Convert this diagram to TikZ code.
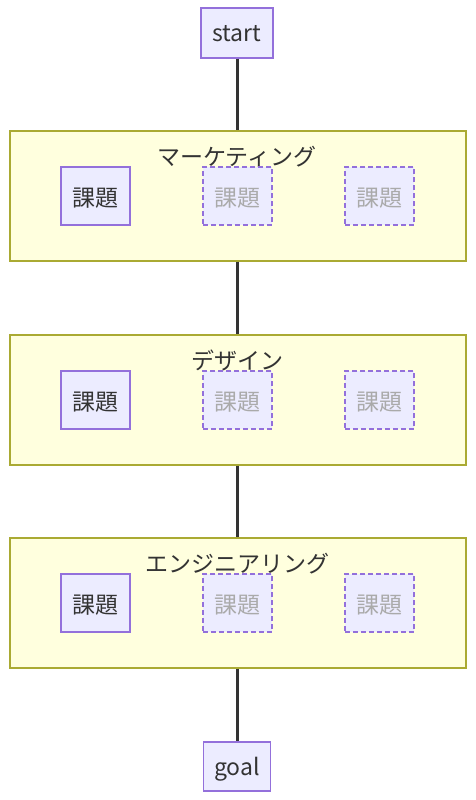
\documentclass[tikz,border=0pt]{standalone}
\usepackage{fontspec}
\setmainfont{Noto Sans CJK JP}
\begin{document}
\begin{tikzpicture}[x=1bp,y=-1bp,
  every node/.style={font=\fontsize{23bp}{26bp}\selectfont},
  task/.style={draw=nodestroke,fill=nodefill,line width=1.2bp,minimum width=69bp,minimum height=58bp,inner sep=0pt,text=textc,text height=21bp,text depth=0bp},
  ghost/.style={task,dashed,dash pattern=on 5bp off 3bp,text=ghosttext},
  endpt/.style={draw=nodestroke,fill=nodefill,line width=1.2bp,minimum height=50bp,inner xsep=11bp,inner ysep=0pt,text=textc,text height=18bp,text depth=0bp},
  cluster/.style={draw=clusterstroke,fill=clusterfill,line width=1.2bp},
  title/.style={text=textc,inner sep=0pt,text height=21bp,text depth=0bp},
  link/.style={draw=linkc,line width=3bp}]
\definecolor{nodefill}{HTML}{ECECFF}
\definecolor{nodestroke}{HTML}{9370DB}
\definecolor{clusterfill}{HTML}{FFFFDE}
\definecolor{clusterstroke}{HTML}{AAAA33}
\definecolor{textc}{HTML}{333333}
\definecolor{ghosttext}{HTML}{AAAAAA}
\definecolor{linkc}{HTML}{333333}
\useasboundingbox (0,0) rectangle (476,800);
% clusters
\node[cluster,minimum width=456bp,minimum height=130bp,inner sep=0pt] (c1) at (238,196) {};
\node[cluster,minimum width=456bp,minimum height=130bp,inner sep=0pt] (c2) at (238,400) {};
\node[cluster,minimum width=456bp,minimum height=130bp,inner sep=0pt] (c3) at (238,603) {};
\node[title] (t1) at (237,155) {マーケティング};
\node[title] (t2) at (237,359) {デザイン};
\node[title] (t3) at (237,562) {エンジニアリング};
% tasks
\node[task] (a1) at (95.5,196) {課題};
\node[ghost] (a2) at (237.5,196) {課題};
\node[ghost] (a3) at (379.5,196) {課題};
\node[task] (b1) at (95.5,400) {課題};
\node[ghost] (b2) at (237.5,400) {課題};
\node[ghost] (b3) at (379.5,400) {課題};
\node[task] (e1) at (95.5,603) {課題};
\node[ghost] (e2) at (237.5,603) {課題};
\node[ghost] (e3) at (379.5,603) {課題};
% start / goal
\node[endpt,minimum width=72bp] (start) at (237,33) {start};
\node[endpt,minimum width=66bp,minimum height=49bp] (goal) at (237,766.5) {goal};
% links
\draw[link] (start.south) -- (start.south |- c1.north);
\draw[link] (start.south |- c1.south) -- (start.south |- c2.north);
\draw[link] (start.south |- c2.south) -- (start.south |- c3.north);
\draw[link] (goal.north |- c3.south) -- (goal.north);
\end{tikzpicture}
\end{document}
